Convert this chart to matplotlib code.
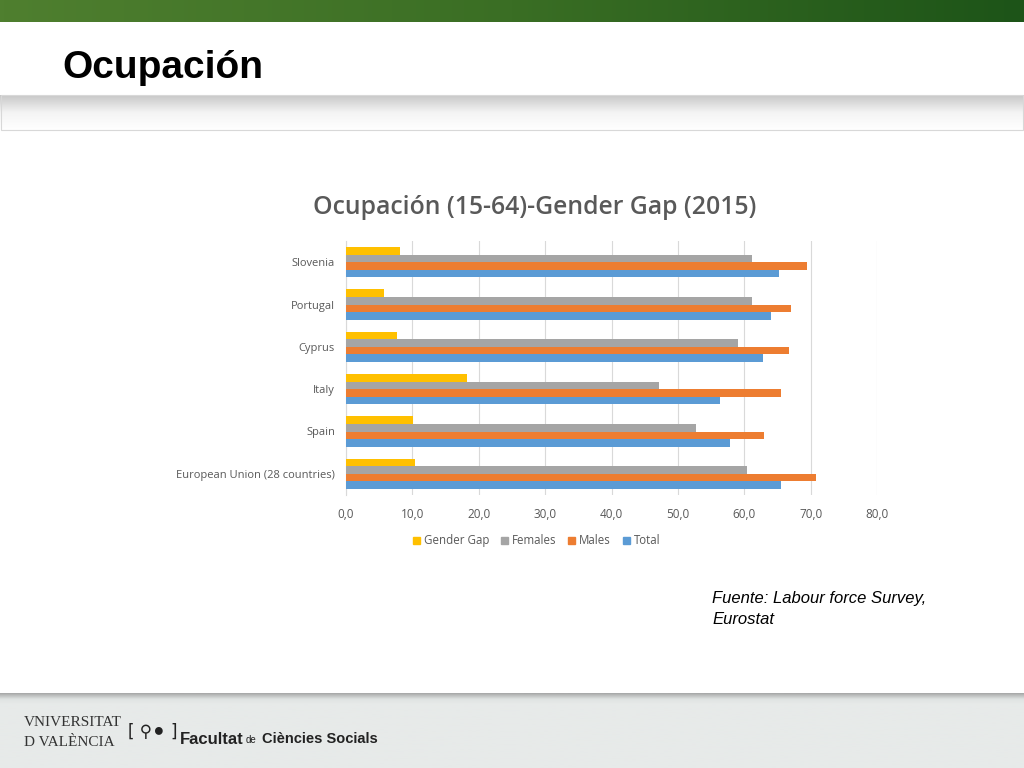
import numpy as np
import matplotlib.pyplot as plt
from matplotlib.patches import Rectangle
from matplotlib.colors import LinearSegmentedColormap

# data (bottom to top, as drawn)
countries = ["European Union (28 countries)", "Spain", "Italy", "Cyprus", "Portugal", "Slovenia"]
total = [65.6, 57.8, 56.3, 62.8, 64.0, 65.3]
males = [70.8, 63.0, 65.6, 66.8, 67.0, 69.4]
females = [60.4, 52.8, 47.2, 59.1, 61.2, 61.1]
gender_gap = [10.4, 10.1, 18.3, 7.7, 5.7, 8.1]

series_names = ["Total", "Males", "Females", "Gender Gap"]
series_colors = ["#5b9bd5", "#ed7d31", "#a5a5a5", "#ffc000"]
xticks = [0, 10, 20, 30, 40, 50, 60, 70, 80]

W, H = 1024, 768
fig = plt.figure(figsize=(W / 100, H / 100), dpi=100)
fig.patch.set_facecolor("white")

# slide background pieces
bg = fig.add_axes([0, 0, 1, 1])
bg.set_xlim(0, W)
bg.set_ylim(H, 0)
bg.axis("off")
green = LinearSegmentedColormap.from_list("g", ["#4f7f2f", "#3a6e24", "#1d5418"])
bg.imshow(np.linspace(0, 1, 256).reshape(1, -1), cmap=green, extent=[0, W, 22, 0], aspect="auto")
gray_band = LinearSegmentedColormap.from_list("gb", ["#c8c8c8", "#f4f4f4", "#ffffff"])
bg.imshow(np.linspace(0, 1, 64).reshape(-1, 1), cmap=gray_band, extent=[0, W, 130, 95], aspect="auto")
bg.add_patch(Rectangle((1, 95), W - 2, 35, fill=False, ec="#d8d8d8", lw=0.8))
foot = LinearSegmentedColormap.from_list("ft", ["#a9aaaa", "#dfe3e2", "#e7eae9"])
bg.imshow(np.concatenate([np.linspace(0, 1, 10), np.ones(54)]).reshape(-1, 1), cmap=foot,
          extent=[0, W, 768, 693], aspect="auto")
bg.text(62, 68, "Ocupación", fontsize=28, fontweight="bold", family="Liberation Sans",
        va="center", ha="left", color="black")
bg.text(712, 598, "Fuente: Labour force Survey,", fontsize=12, style="italic",
        family="Liberation Sans", va="center")
bg.text(712, 619, "Eurostat", fontsize=12, style="italic", family="Liberation Sans", va="center")
# footer logo text
bg.text(24, 722, "VNIVERSITAT", fontsize=11, family="Liberation Serif", color="#333333", va="center")
bg.text(24, 742, "D VALÈNCIA", fontsize=11, family="Liberation Serif", color="#333333", va="center")
bg.text(128, 732, "[ ⚲⚫ ]", fontsize=12, family="DejaVu Sans", color="#222222", va="center")
bg.text(180, 739, "Facultat", fontsize=12, fontweight="bold", family="Liberation Sans", color="#222222", va="center")
bg.text(246, 740, "de", fontsize=7, family="Liberation Sans", color="#222222", va="center")
bg.text(262, 739, "Ciències Socials", fontsize=10.5, fontweight="bold", family="Liberation Sans",
        color="#222222", va="center")

# chart
ax = fig.add_axes([346 / W, 1 - 495 / H, (877 - 346) / W, (495 - 241) / H])
y = np.arange(len(countries))
h = 0.18
for i, (vals, name, col) in enumerate(zip([total, males, females, gender_gap], series_names, series_colors)):
    ax.barh(y + (i - 1.5) * h, vals, height=h, color=col, label=name, zorder=3)

ax.set_xlim(0, 80)
ax.set_ylim(-0.5, 5.5)
ax.set_xticks(xticks)
ax.set_xticklabels([f"{v:.1f}".replace(".", ",") for v in xticks])
ax.set_yticks(y)
ax.set_yticklabels(countries)
ax.tick_params(length=0, labelsize=8, labelcolor="#595959")
ax.tick_params(axis="y", pad=8)
ax.tick_params(axis="x", pad=9, labelsize=8.5)
ax.grid(axis="x", color="#d9d9d9", lw=0.8, zorder=0)
for s in ["top", "right", "bottom"]:
    ax.spines[s].set_visible(False)
ax.spines["left"].set_color("#d9d9d9")
for lbl in ax.get_xticklabels() + ax.get_yticklabels():
    lbl.set_family("Open Sans")

fig.text(535 / W, 1 - 207 / H, "Ocupación (15-64)-Gender Gap (2015)", ha="center", va="center",
         fontsize=17.8, fontweight="semibold", color="#595959", family="Open Sans")

# legend, laid out by hand so all labels share one baseline
renderer = fig.canvas.get_renderer()
leg_names = series_names[::-1]
leg_colors = series_colors[::-1]
sq, txt_gap, col_gap = 7, 4, 12
leg_top = 537
texts = [bg.text(0, leg_top + 7, n, fontsize=8.3, family="Open Sans", color="#595959",
                 va="baseline", ha="left") for n in leg_names]
widths = [t.get_window_extent(renderer).width for t in texts]
total_w = sum(widths) + len(widths) * (sq + txt_gap) + (len(widths) - 1) * col_gap
x = round(537 - total_w / 2)
for t, w, c in zip(texts, widths, leg_colors):
    bg.add_patch(Rectangle((x, leg_top), sq, sq, color=c))
    t.set_x(x + sq + txt_gap)
    x = round(x + sq + txt_gap + w + col_gap)

fig.savefig("out.png", dpi=100)
